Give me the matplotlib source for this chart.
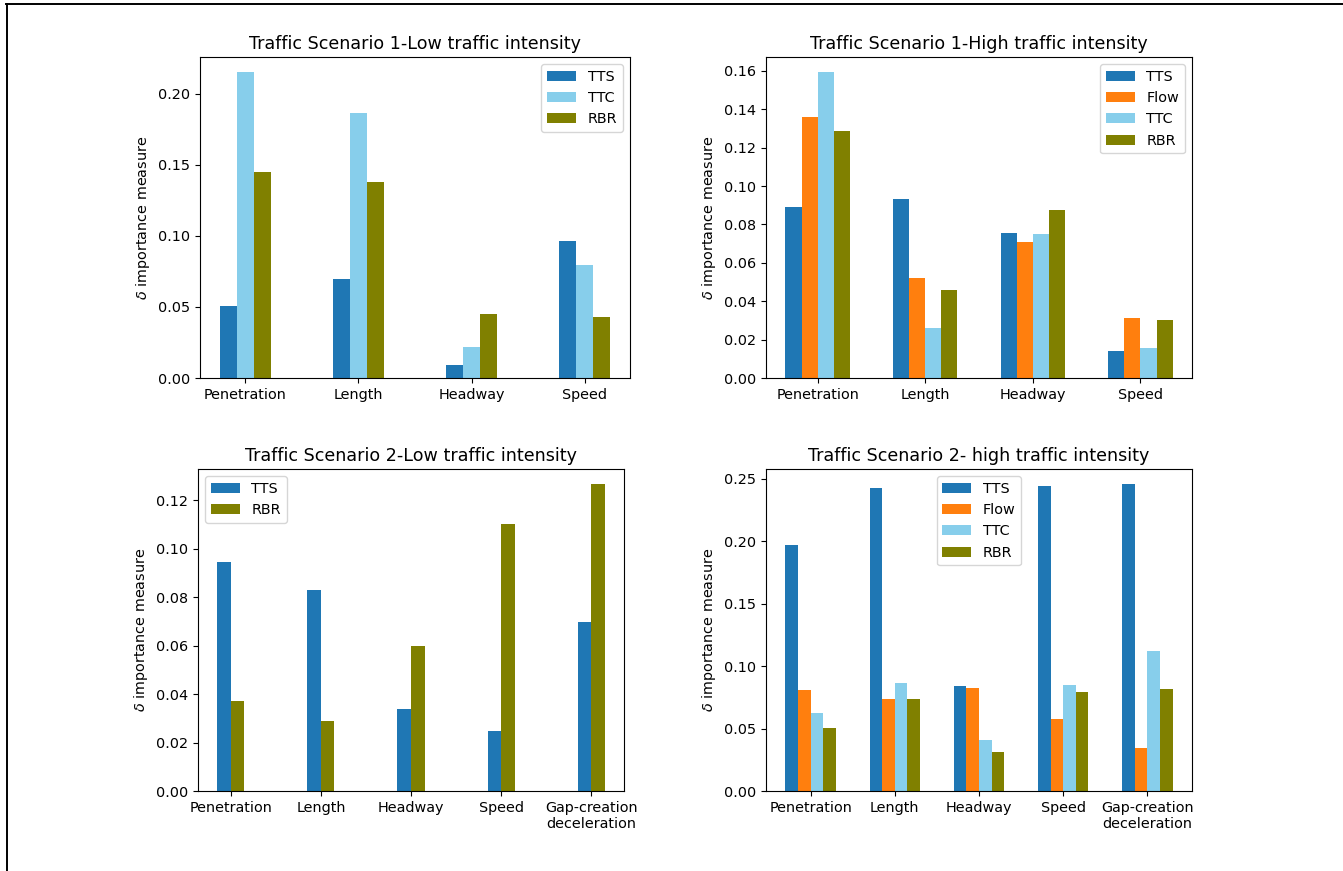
import matplotlib
matplotlib.use("Agg")
import matplotlib.pyplot as plt
from matplotlib.lines import Line2D
import numpy as np

# colours per metric
colors = {"TTS": "#1f77b4", "Flow": "#ff7f0e", "TTC": "skyblue", "RBR": "olive"}

cats4 = ["Penetration", "Length", "Headway", "Speed"]
cats5 = ["Penetration", "Length", "Headway", "Speed", "Gap-creation\ndeceleration"]

# scenario 1, low intensity
s1_low_tts = [0.0504, 0.0699, 0.0089, 0.0961]
s1_low_ttc = [0.2152, 0.1864, 0.0216, 0.0795]
s1_low_rbr = [0.1449, 0.1379, 0.0453, 0.0429]

# scenario 1, high intensity
s1_high_tts = [0.0889, 0.0935, 0.0757, 0.0141]
s1_high_flow = [0.1361, 0.0522, 0.0711, 0.0311]
s1_high_ttc = [0.1593, 0.0259, 0.0748, 0.0156]
s1_high_rbr = [0.1288, 0.0456, 0.0876, 0.0300]

# scenario 2, low intensity
s2_low_tts = [0.0946, 0.0831, 0.0337, 0.0249, 0.0696]
s2_low_rbr = [0.0371, 0.0291, 0.0599, 0.1102, 0.1266]

# scenario 2, high intensity
s2_high_tts = [0.1972, 0.2430, 0.0845, 0.2441, 0.2457]
s2_high_flow = [0.0807, 0.0740, 0.0826, 0.0577, 0.0341]
s2_high_ttc = [0.0628, 0.0864, 0.0410, 0.0848, 0.1119]
s2_high_rbr = [0.0507, 0.0738, 0.0311, 0.0791, 0.0815]

W, H = 1343, 871
fig = plt.figure(figsize=(W / 100, H / 100), dpi=100)

TITLE_FS = 12.6
FS = 10.4


def px_axes(left, top, right, bottom):
    return fig.add_axes([left / W, 1 - bottom / H, (right - left) / W, (bottom - top) / H])


def grouped(ax, cats, series, offsets, title, legend_loc):
    x = np.arange(len(cats))
    w = 0.15
    for (name, vals), off in zip(series, offsets):
        ax.bar(x + off, vals, w, color=colors[name], label=name)
    ax.set_xticks(x)
    ax.set_xticklabels(cats, fontsize=FS)
    ax.tick_params(axis="y", labelsize=FS)
    ax.set_ylabel(r"$\delta$ importance measure", fontsize=FS)
    ax.set_title(title, fontsize=TITLE_FS)
    ax.legend(loc=legend_loc, fontsize=FS)


ax1 = px_axes(200, 57, 630, 378)
grouped(ax1, cats4,
        [("TTS", s1_low_tts), ("TTC", s1_low_ttc), ("RBR", s1_low_rbr)],
        [-0.15, 0, 0.15], "Traffic Scenario 1-Low traffic intensity", "upper right")
ax1.set_yticks([0, 0.05, 0.10, 0.15, 0.20])

ax2 = px_axes(766, 57, 1192, 378)
grouped(ax2, cats4,
        [("TTS", s1_high_tts), ("Flow", s1_high_flow), ("TTC", s1_high_ttc), ("RBR", s1_high_rbr)],
        [-0.225, -0.075, 0.075, 0.225], "Traffic Scenario 1-High traffic intensity", "upper right")

ax3 = px_axes(198, 469, 624, 791)
grouped(ax3, cats5,
        [("TTS", s2_low_tts), ("RBR", s2_low_rbr)],
        [-0.075, 0.075], "Traffic Scenario 2-Low traffic intensity", "upper left")

ax4 = px_axes(766, 469, 1192, 791)
grouped(ax4, cats5,
        [("TTS", s2_high_tts), ("Flow", s2_high_flow), ("TTC", s2_high_ttc), ("RBR", s2_high_rbr)],
        [-0.225, -0.075, 0.075, 0.225], "Traffic Scenario 2- high traffic intensity", "upper center")

# black frame on left and top of the picture
fig.add_artist(Line2D([6.7 / W, 6.7 / W], [0, 1 - 4 / H], color="black", lw=1.4))
fig.add_artist(Line2D([6 / W, 1], [1 - 4 / H, 1 - 4 / H], color="black", lw=1.4))

fig.savefig("out.png", dpi=100)
